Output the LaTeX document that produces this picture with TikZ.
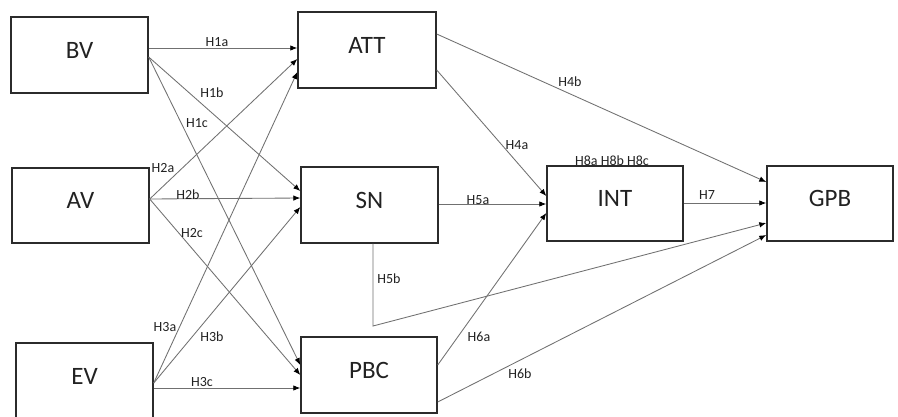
\documentclass[tikz,border=0pt]{standalone}
\usepackage{fontspec}
\setmainfont{Carlito}
\usetikzlibrary{arrows.meta}
\definecolor{boxc}{HTML}{2B2B2B}
\definecolor{linec}{HTML}{707070}
\definecolor{txt}{HTML}{222222}
\begin{document}
\begin{tikzpicture}[x=1pt,y=-1pt,
  box/.style={draw=boxc, line width=1.4pt, minimum width=137pt, minimum height=76pt,
    inner sep=0pt, font=\fontsize{25}{25}\selectfont, text=txt, text height=16pt, text depth=10pt},
  conn/.style={draw=linec, line width=0.85pt, -{Latex[length=7pt,width=5.5pt,color=black]}},
  lab/.style={font=\fontsize{14}{14}\selectfont, text=txt, inner sep=0pt}]
\useasboundingbox (0,0) rectangle (898,416);
\fill[white] (0,0) rectangle (898,416);
\node[box] (BV) at (79.5,55) {BV};
\node[box, minimum width=138pt] (ATT) at (367,50) {ATT};
\node[box, minimum height=75pt] (AV) at (80.5,205.5) {AV};
\node[box] (SN) at (369.5,205) {SN};
\node[box] (EV) at (84.5,381) {EV};
\node[box, minimum width=136pt] (PBC) at (369,375) {PBC};
\node[box, minimum width=136pt, minimum height=75pt] (INT) at (615,203.5) {INT};
\node[box, minimum width=126pt, minimum height=75pt] (GPB) at (830,203.5) {GPB};
\coordinate (h5bend) at (373,326);
% connectors
\draw[conn] (BV.east |- 0,48) -- (ATT.west |- 0,48);
\draw[conn] (BV.east |- 0,57) -- (SN.west |- 0,191);
\draw[conn] (BV.east |- 0,57) -- (PBC.west |- 0,365);
\draw[conn] (AV.east |- 0,199) -- (ATT.west |- 0,59);
\draw[conn] (AV.east |- 0,199) -- (SN.west |- 0,198);
\draw[conn] (AV.east |- 0,199) -- (PBC.west |- 0,375);
\draw[conn] (EV.east |- 0,383) -- (ATT.west |- 0,72);
\draw[conn] (EV.east |- 0,383) -- (SN.west |- 0,207);
\draw[conn] (EV.east |- 0,388) -- (PBC.west |- 0,388);
\draw[conn] (ATT.east |- 0,70) -- (INT.west |- 0,196);
\draw[conn] (ATT.east |- 0,34) -- (GPB.west |- 0,182);
\draw[conn] (SN.east |- 0,204) -- (INT.west |- 0,204);
\draw[conn] (SN.south -| h5bend) -- (h5bend) -- (GPB.west |- 0,223);
\draw[conn] (PBC.east |- 0,365) -- (INT.west |- 0,213);
\draw[conn] (PBC.east |- 0,402) -- (GPB.west |- 0,235);
\draw[conn] (INT.east |- 0,203) -- (GPB.west |- 0,203);
% labels
\node[lab] (l1a) at (217,42) {H1a};
\node[lab] (l1b) at (212,93) {H1b};
\node[lab] (l1c) at (197,123) {H1c};
\node[lab] (l2a) at (163,168) {H2a};
\node[lab] (l2b) at (188,195) {H2b};
\node[lab] (l2c) at (192,233) {H2c};
\node[lab] (l3a) at (165,327) {H3a};
\node[lab] (l3b) at (212,337) {H3b};
\node[lab] (l3c) at (202,382) {H3c};
\node[lab] (l4a) at (517,145) {H4a};
\node[lab] (l4b) at (570,82) {H4b};
\node[lab] (l5a) at (478,200) {H5a};
\node[lab] (l5b) at (389,279) {H5b};
\node[lab] (l6a) at (479,337) {H6a};
\node[lab] (l6b) at (520,374) {H6b};
\node[lab] (l7) at (707,195) {H7};
\node[lab] (l8) at (612,161) {H8a H8b H8c};
\end{tikzpicture}
\end{document}
